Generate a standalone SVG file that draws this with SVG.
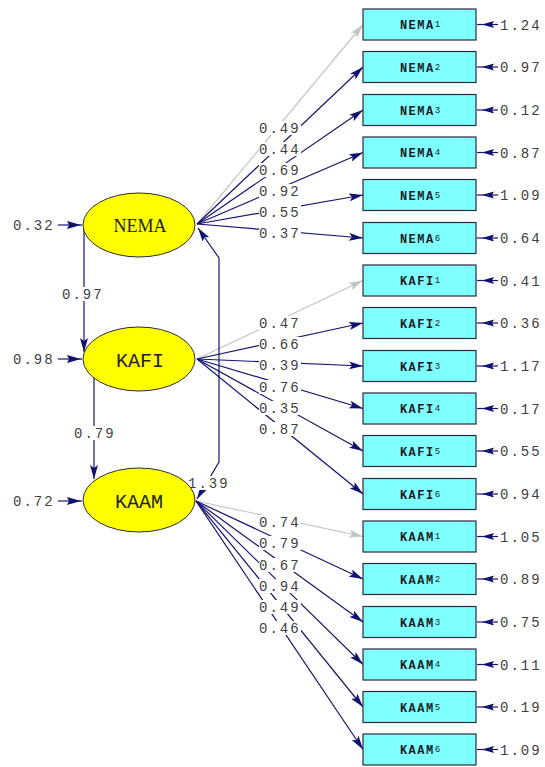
<svg xmlns="http://www.w3.org/2000/svg" width="545" height="767" viewBox="0 0 545 767">
<style>
.box{fill:#80ffff;stroke:#2a2a3a;stroke-width:1.2}
.ell{fill:#ffff00;stroke:#2a2a3a;stroke-width:1}
.ln{fill:none;stroke:#15156e;stroke-width:1.2}
.gl{fill:none;stroke:#c4c4c4;stroke-width:1.2}
.val{font-family:"Liberation Mono",monospace;font-size:14px;letter-spacing:2px;fill:#404040}
.lbl{font-family:"Liberation Mono",monospace;font-size:12px;font-weight:bold;letter-spacing:1.5px;fill:#1a1a2a;text-anchor:middle}
.sub{font-size:9px;font-weight:normal;letter-spacing:0}
.bg{fill:#ffffff}
.ah{fill:#10106e}
</style>
<defs>
<marker id="a" viewBox="0 0 14 8" refX="14" refY="4" markerWidth="14" markerHeight="8" markerUnits="userSpaceOnUse" orient="auto-start-reverse"><path d="M0,0 L14,4 L0,8 L3,4 z" fill="#10106e"/></marker>
<marker id="g" viewBox="0 0 14 8" refX="14" refY="4" markerWidth="14" markerHeight="8" markerUnits="userSpaceOnUse" orient="auto"><path d="M0,0 L14,4 L0,8 L3,4 z" fill="#c4c4c4"/></marker>
</defs>
<rect width="545" height="767" fill="#ffffff"/>

<g id="connectors">
<path class="gl" d="M197,224 L363,24.5" marker-end="url(#g)"/>
<path class="ln" d="M197,224 L363,67" marker-end="url(#a)"/>
<path class="ln" d="M197,224 L363,110" marker-end="url(#a)"/>
<path class="ln" d="M197,224 L363,152.5" marker-end="url(#a)"/>
<path class="ln" d="M197,224 L363,195" marker-end="url(#a)"/>
<path class="ln" d="M197,224 L363,238" marker-end="url(#a)"/>
<path class="gl" d="M197,359 L363,280.5" marker-end="url(#g)"/>
<path class="ln" d="M197,359 L363,323" marker-end="url(#a)"/>
<path class="ln" d="M197,359 L363,366" marker-end="url(#a)"/>
<path class="ln" d="M197,359 L363,408.5" marker-end="url(#a)"/>
<path class="ln" d="M197,359 L363,451" marker-end="url(#a)"/>
<path class="ln" d="M197,359 L363,494" marker-end="url(#a)"/>
<path class="gl" d="M196,501 L363,536.5" marker-end="url(#g)"/>
<path class="ln" d="M196,501 L363,579" marker-end="url(#a)"/>
<path class="ln" d="M196,501 L363,622" marker-end="url(#a)"/>
<path class="ln" d="M196,501 L363,664.5" marker-end="url(#a)"/>
<path class="ln" d="M196,501 L363,707" marker-end="url(#a)"/>
<path class="ln" d="M196,501 L363,749.5" marker-end="url(#a)"/>
<path class="ln" d="M84,228 L84,352" marker-end="url(#a)"/>
<path class="ln" d="M94,378 L94,479" marker-end="url(#a)"/>
<path class="ln" d="M198,228 L219,258 L219,462 L197,499" marker-start="url(#a)" marker-end="url(#a)"/>
<g>
<line class="ln" x1="58" y1="225" x2="82" y2="225"/><path class="ah" d="M81,225 L67,221 L69,225 L67,229 z"/>
<line class="ln" x1="58" y1="359" x2="82" y2="359"/><path class="ah" d="M81,359 L67,355 L69,359 L67,363 z"/>
<line class="ln" x1="58" y1="501" x2="82" y2="501"/><path class="ah" d="M81,501 L67,497 L69,501 L67,505 z"/>
</g>
<g id="errs">
<line class="ln" x1="477" y1="24.5" x2="498" y2="24.5"/><path class="ah" d="M482,24.5 L494,21 L492,24.5 L494,28 z"/>
<line class="ln" x1="477" y1="67" x2="498" y2="67"/><path class="ah" d="M482,67 L494,63.5 L492,67 L494,70.5 z"/>
<line class="ln" x1="477" y1="110" x2="498" y2="110"/><path class="ah" d="M482,110 L494,106.5 L492,110 L494,113.5 z"/>
<line class="ln" x1="477" y1="152.5" x2="498" y2="152.5"/><path class="ah" d="M482,152.5 L494,149 L492,152.5 L494,156 z"/>
<line class="ln" x1="477" y1="195" x2="498" y2="195"/><path class="ah" d="M482,195 L494,191.5 L492,195 L494,198.5 z"/>
<line class="ln" x1="477" y1="238" x2="498" y2="238"/><path class="ah" d="M482,238 L494,234.5 L492,238 L494,241.5 z"/>
<line class="ln" x1="477" y1="280.5" x2="498" y2="280.5"/><path class="ah" d="M482,280.5 L494,277 L492,280.5 L494,284 z"/>
<line class="ln" x1="477" y1="323" x2="498" y2="323"/><path class="ah" d="M482,323 L494,319.5 L492,323 L494,326.5 z"/>
<line class="ln" x1="477" y1="366" x2="498" y2="366"/><path class="ah" d="M482,366 L494,362.5 L492,366 L494,369.5 z"/>
<line class="ln" x1="477" y1="408.5" x2="498" y2="408.5"/><path class="ah" d="M482,408.5 L494,405 L492,408.5 L494,412 z"/>
<line class="ln" x1="477" y1="451" x2="498" y2="451"/><path class="ah" d="M482,451 L494,447.5 L492,451 L494,454.5 z"/>
<line class="ln" x1="477" y1="494" x2="498" y2="494"/><path class="ah" d="M482,494 L494,490.5 L492,494 L494,497.5 z"/>
<line class="ln" x1="477" y1="536.5" x2="498" y2="536.5"/><path class="ah" d="M482,536.5 L494,533 L492,536.5 L494,540 z"/>
<line class="ln" x1="477" y1="579" x2="498" y2="579"/><path class="ah" d="M482,579 L494,575.5 L492,579 L494,582.5 z"/>
<line class="ln" x1="477" y1="622" x2="498" y2="622"/><path class="ah" d="M482,622 L494,618.5 L492,622 L494,625.5 z"/>
<line class="ln" x1="477" y1="664.5" x2="498" y2="664.5"/><path class="ah" d="M482,664.5 L494,661 L492,664.5 L494,668 z"/>
<line class="ln" x1="477" y1="707" x2="498" y2="707"/><path class="ah" d="M482,707 L494,703.5 L492,707 L494,710.5 z"/>
<line class="ln" x1="477" y1="749.5" x2="498" y2="749.5"/><path class="ah" d="M482,749.5 L494,746 L492,749.5 L494,753 z"/>
</g>
</g>

<g id="connector-labels">
<g class="bg">
<rect x="259" y="121" width="42" height="14"/><rect x="259" y="142" width="42" height="14"/><rect x="259" y="163" width="42" height="14"/>
<rect x="259" y="184" width="42" height="14"/><rect x="259" y="205" width="42" height="14"/><rect x="259" y="226" width="42" height="14"/>
<rect x="259" y="316" width="42" height="14"/><rect x="259" y="337" width="42" height="14"/><rect x="259" y="358" width="42" height="14"/>
<rect x="259" y="380" width="42" height="14"/><rect x="259" y="401" width="42" height="14"/><rect x="259" y="422" width="42" height="14"/>
<rect x="259" y="515" width="42" height="14"/><rect x="259" y="536" width="42" height="14"/><rect x="259" y="558" width="42" height="14"/>
<rect x="259" y="579" width="42" height="14"/><rect x="259" y="600" width="42" height="14"/><rect x="259" y="621" width="42" height="14"/>
<rect x="61" y="287" width="42" height="14"/><rect x="73" y="426" width="42" height="14"/><rect x="187" y="476" width="42" height="14"/>
</g>
<text class="val" x="259" y="133">0.49</text>
<text class="val" x="259" y="154">0.44</text>
<text class="val" x="259" y="175">0.69</text>
<text class="val" x="259" y="196">0.92</text>
<text class="val" x="259" y="217">0.55</text>
<text class="val" x="259" y="238">0.37</text>
<text class="val" x="259" y="328">0.47</text>
<text class="val" x="259" y="349">0.66</text>
<text class="val" x="259" y="370">0.39</text>
<text class="val" x="259" y="392">0.76</text>
<text class="val" x="259" y="413">0.35</text>
<text class="val" x="259" y="434">0.87</text>
<text class="val" x="259" y="527">0.74</text>
<text class="val" x="259" y="548">0.79</text>
<text class="val" x="259" y="570">0.67</text>
<text class="val" x="259" y="591">0.94</text>
<text class="val" x="259" y="612">0.49</text>
<text class="val" x="259" y="633">0.46</text>
<text class="val" x="62" y="299">0.97</text>
<text class="val" x="74" y="438">0.79</text>
<text class="val" x="188" y="488">1.39</text>
<text class="val" x="13" y="230">0.32</text>
<text class="val" x="13" y="364">0.98</text>
<text class="val" x="13" y="506">0.72</text>
<text class="val" x="500" y="29.5">1.24</text>
<text class="val" x="500" y="72">0.97</text>
<text class="val" x="500" y="115">0.12</text>
<text class="val" x="500" y="157.5">0.87</text>
<text class="val" x="500" y="200">1.09</text>
<text class="val" x="500" y="243">0.64</text>
<text class="val" x="500" y="285.5">0.41</text>
<text class="val" x="500" y="328">0.36</text>
<text class="val" x="500" y="371">1.17</text>
<text class="val" x="500" y="413.5">0.17</text>
<text class="val" x="500" y="456">0.55</text>
<text class="val" x="500" y="499">0.94</text>
<text class="val" x="500" y="541.5">1.05</text>
<text class="val" x="500" y="584">0.89</text>
<text class="val" x="500" y="627">0.75</text>
<text class="val" x="500" y="669.5">0.11</text>
<text class="val" x="500" y="712">0.19</text>
<text class="val" x="500" y="754.5">1.09</text>
</g>

<g id="NEMA"><ellipse class="ell" cx="139" cy="225" rx="56" ry="32"/><text x="140" y="232" font-family="Liberation Serif, serif" font-size="18" fill="#222" text-anchor="middle">NEMA</text></g>
<g id="KAFI"><ellipse class="ell" cx="139" cy="359" rx="56" ry="32"/><text x="140" y="367" font-family="Liberation Mono, monospace" font-size="20" fill="#222" text-anchor="middle">KAFI</text></g>
<g id="KAAM"><ellipse class="ell" cx="139" cy="500" rx="56" ry="32"/><text x="139" y="508" font-family="Liberation Mono, monospace" font-size="20" fill="#222" text-anchor="middle">KAAM</text></g>

<g id="NEMA1"><rect class="box" x="363" y="9" width="113" height="31"/><text class="lbl" x="420" y="29">NEMA<tspan class="sub" dy="-2">1</tspan></text></g>
<g id="NEMA2"><rect class="box" x="363" y="51.5" width="113" height="31"/><text class="lbl" x="420" y="71.5">NEMA<tspan class="sub" dy="-2">2</tspan></text></g>
<g id="NEMA3"><rect class="box" x="363" y="94.5" width="113" height="31"/><text class="lbl" x="420" y="114.5">NEMA<tspan class="sub" dy="-2">3</tspan></text></g>
<g id="NEMA4"><rect class="box" x="363" y="137" width="113" height="31"/><text class="lbl" x="420" y="157">NEMA<tspan class="sub" dy="-2">4</tspan></text></g>
<g id="NEMA5"><rect class="box" x="363" y="179.5" width="113" height="31"/><text class="lbl" x="420" y="199.5">NEMA<tspan class="sub" dy="-2">5</tspan></text></g>
<g id="NEMA6"><rect class="box" x="363" y="222.5" width="113" height="31"/><text class="lbl" x="420" y="242.5">NEMA<tspan class="sub" dy="-2">6</tspan></text></g>
<g id="KAFI1"><rect class="box" x="363" y="265" width="113" height="31"/><text class="lbl" x="420" y="285">KAFI<tspan class="sub" dy="-2">1</tspan></text></g>
<g id="KAFI2"><rect class="box" x="363" y="307.5" width="113" height="31"/><text class="lbl" x="420" y="327.5">KAFI<tspan class="sub" dy="-2">2</tspan></text></g>
<g id="KAFI3"><rect class="box" x="363" y="350.5" width="113" height="31"/><text class="lbl" x="420" y="370.5">KAFI<tspan class="sub" dy="-2">3</tspan></text></g>
<g id="KAFI4"><rect class="box" x="363" y="393" width="113" height="31"/><text class="lbl" x="420" y="413">KAFI<tspan class="sub" dy="-2">4</tspan></text></g>
<g id="KAFI5"><rect class="box" x="363" y="435.5" width="113" height="31"/><text class="lbl" x="420" y="455.5">KAFI<tspan class="sub" dy="-2">5</tspan></text></g>
<g id="KAFI6"><rect class="box" x="363" y="478.5" width="113" height="31"/><text class="lbl" x="420" y="498.5">KAFI<tspan class="sub" dy="-2">6</tspan></text></g>
<g id="KAAM1"><rect class="box" x="363" y="521" width="113" height="31"/><text class="lbl" x="420" y="541">KAAM<tspan class="sub" dy="-2">1</tspan></text></g>
<g id="KAAM2"><rect class="box" x="363" y="563.5" width="113" height="31"/><text class="lbl" x="420" y="583.5">KAAM<tspan class="sub" dy="-2">2</tspan></text></g>
<g id="KAAM3"><rect class="box" x="363" y="606.5" width="113" height="31"/><text class="lbl" x="420" y="626.5">KAAM<tspan class="sub" dy="-2">3</tspan></text></g>
<g id="KAAM4"><rect class="box" x="363" y="649" width="113" height="31"/><text class="lbl" x="420" y="669">KAAM<tspan class="sub" dy="-2">4</tspan></text></g>
<g id="KAAM5"><rect class="box" x="363" y="691.5" width="113" height="31"/><text class="lbl" x="420" y="711.5">KAAM<tspan class="sub" dy="-2">5</tspan></text></g>
<g id="KAAM6"><rect class="box" x="363" y="734" width="113" height="31"/><text class="lbl" x="420" y="754">KAAM<tspan class="sub" dy="-2">6</tspan></text></g>
</svg>
